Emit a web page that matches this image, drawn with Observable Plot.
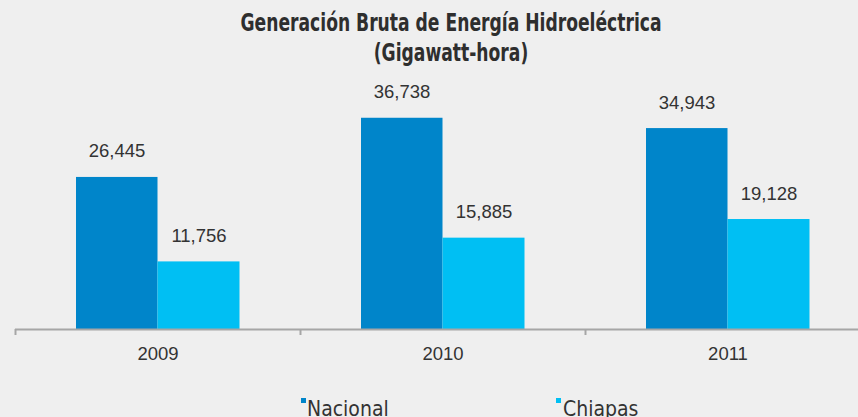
<!DOCTYPE html>
<html>
<head>
<meta charset="utf-8">
<script src="https://cdn.jsdelivr.net/npm/d3@7"></script>
<script src="https://cdn.jsdelivr.net/npm/@observablehq/plot@0.6"></script>
<style>
  html, body { margin: 0; padding: 0; background: #efefef; }
  #wrap { position: relative; width: 858px; height: 417px; overflow: hidden; background: #efefef; }
  .tl { position: absolute; left: 451px; transform-origin: 0 0; white-space: nowrap;
    font-family: "Liberation Sans Narrow", "DejaVu Sans Condensed", "Liberation Sans", sans-serif;
    font-stretch: condensed; font-weight: bold; font-size: 25.5px; line-height: 30px; height: 30px; color: #2e2e2e; }
  #t1 { top: 7px; }
  #t2 { top: 37px; }
  #chart { position: absolute; top: 70px; left: 0; }
  .leg { position: absolute; top: 399px; font-family: "Liberation Sans Narrow", "DejaVu Sans Condensed", "Liberation Sans", sans-serif;
    font-stretch: condensed; font-size: 21px; line-height: 21px; color: #333; white-space: nowrap; }
  .sw { position: absolute; width: 5px; height: 5px; top: 398px; }
</style>
</head>
<body>
<div id="wrap">
  <div class="tl" id="t1">Generación Bruta de Energía Hidroeléctrica</div>
  <div class="tl" id="t2">(Gigawatt-hora)</div>
  <div id="chart"></div>
  <div class="sw" style="left:301px;background:#0085ca"></div>
  <div class="leg" id="leg1" style="left:307px">Nacional</div>
  <div class="sw" style="left:556px;background:#00bff3"></div>
  <div class="leg" id="leg2" style="left:563px">Chiapas</div>
</div>
<script>
const years = ["2009", "2010", "2011"];
const series = ["Nacional", "Chiapas"];
const nacional = [26445, 36738, 34943];
const chiapas = [11756, 15885, 19128];
const colors = ["#0085ca", "#00bff3"];

const rows = [];
years.forEach((y, i) => {
  rows.push({year: y, serie: series[0], value: nacional[i]});
  rows.push({year: y, serie: series[1], value: chiapas[i]});
});
const nac = rows.filter(d => d.serie === "Nacional");
const chi = rows.filter(d => d.serie === "Chiapas");

const half = 142.5;
const fmt = d3.format(",");

const plot = Plot.plot({
  width: 858,
  height: 300,
  marginLeft: 15,
  marginRight: 0,
  marginTop: 29,
  marginBottom: 41,
  style: {background: "transparent", fontFamily: "'Liberation Sans', Arial, sans-serif", color: "#333"},
  x: {domain: years, range: [15, 870], padding: 0, axis: null, label: null},
  y: {domain: [0, 40000], axis: null},
  color: {domain: series, range: colors},
  marks: [
    Plot.barY(nac, {x: "year", y: "value", fill: "serie", insetLeft: half - 81.5, insetRight: half}),
    Plot.barY(chi, {x: "year", y: "value", fill: "serie", insetLeft: half, insetRight: half - 82}),
    Plot.text(nac, {x: "year", y: "value", text: d => fmt(d.value), dx: -41, dy: -20, lineAnchor: "bottom", fontSize: 18.5, fill: "#333"}),
    Plot.text(chi, {x: "year", y: "value", text: d => fmt(d.value), dx: 41, dy: -20, lineAnchor: "bottom", fontSize: 18.5, fill: "#333"}),
    Plot.ruleY([0], {stroke: "#a6a6a6", strokeWidth: 2}),
    Plot.axisX({tickSize: 6, tickFormat: () => "", label: null, dx: -half, stroke: "#a6a6a6", strokeWidth: 2, strokeOpacity: 1}),
    Plot.axisX({tickSize: 0, tickPadding: 17, label: null, fontSize: 18.5, fill: "#333"})
  ]
});
document.getElementById("chart").appendChild(plot);

// condense the title to the reference's width
const t1 = document.getElementById("t1");
const t2 = document.getElementById("t2");
const k = 421 / t1.getBoundingClientRect().width;
t1.style.transform = `scaleX(${k}) translateX(-50%)`;
t2.style.transform = `scaleX(${k}) translateX(-50%)`;
</script>
</body>
</html>
